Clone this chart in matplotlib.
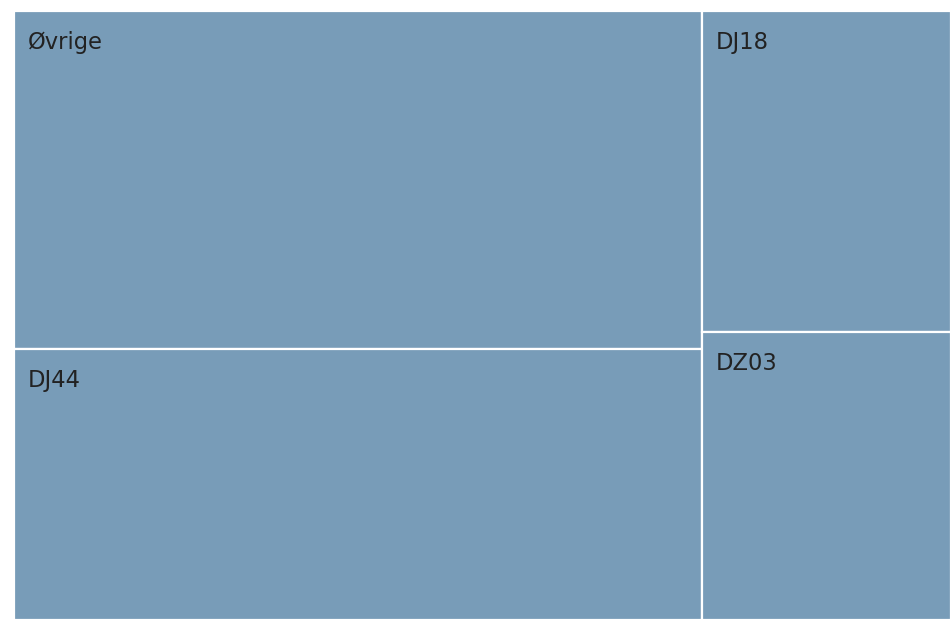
import matplotlib.pyplot as plt
from matplotlib.patches import Rectangle

# ---------- Data (share of total)
left_labels = ['Øvrige', 'DJ44']
left_values = [40.7, 32.7]
right_labels = ['DJ18', 'DZ03']
right_values = [14.0, 12.6]

fill = '#789cb8'

fig = plt.figure(figsize=(9.5, 6.19), dpi=100)
# axes run one pixel past the right and bottom edge so no white border shows there
ax = fig.add_axes([14 / 950, -1 / 619, 1 - 13 / 950, 1 - 10 / 619])
ax.set_xlim(0, 1)
ax.set_ylim(1, 0)
ax.axis('off')

total = sum(left_values) + sum(right_values)
x0 = 0
for labels, values in [(left_labels, left_values), (right_labels, right_values)]:
    w = sum(values) / total
    y0 = 0
    for lab, v in zip(labels, values):
        h = v / sum(values)
        ax.add_patch(Rectangle((x0, y0), w, h, facecolor=fill,
                               edgecolor='white', linewidth=1.6))
        ax.annotate(lab, (x0, y0), xytext=(14, -20), textcoords='offset pixels',
                    ha='left', va='top', fontsize=16.3, color='#222222')
        y0 += h
    x0 += w

fig.savefig('out.png', dpi=100)
